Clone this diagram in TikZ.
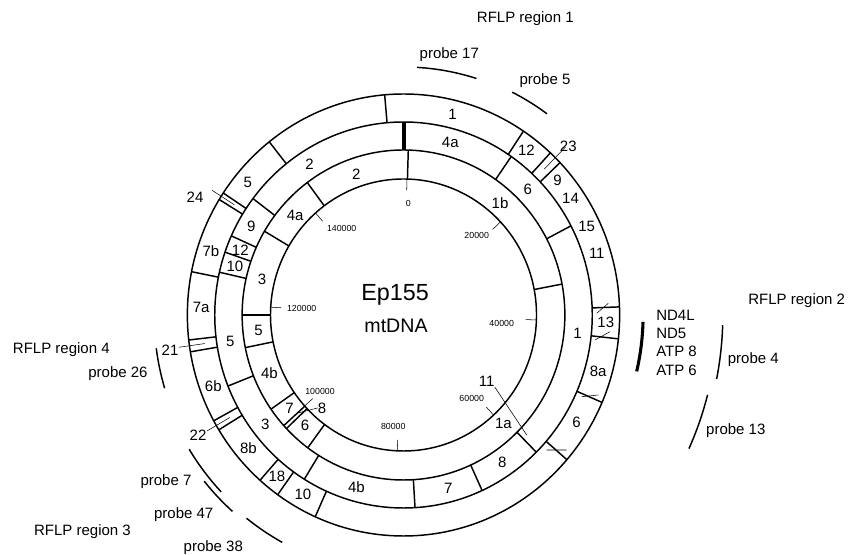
\documentclass[tikz,border=0pt]{standalone}
\usepackage{fontspec}
\setmainfont{Liberation Sans}
\begin{document}
\begin{tikzpicture}[x=0.75pt,y=0.75pt,
  lbl/.style={font=\fontsize{11.25}{13}\selectfont, inner sep=0pt},
  tck/.style={font=\fontsize{6.6}{8}\selectfont, inner sep=0pt},
  ring/.style={line width=1.1pt},
  probe/.style={line width=1.1pt}]
\useasboundingbox (0,0) rectangle (848,555);

\node[lbl] (reg1) at (525.3,536.7) {RFLP region 1};
\node[lbl] (reg2) at (796.7,254.3) {RFLP region 2};
\node[lbl] (reg3) at (82.5,23.3) {RFLP region 3};
\node[lbl] (reg4) at (61.3,205.7) {RFLP region 4};
\node[lbl] (p17) at (449.3,500) {probe 17};
\node[lbl] (p5) at (545,474) {probe 5};
\node[lbl] (p4) at (753.3,195.7) {probe 4};
\node[lbl] (p13) at (735.8,124.3) {probe 13};
\node[lbl] (p26) at (118,181.7) {probe 26};
\node[lbl] (p7) at (166,73.3) {probe 7};
\node[lbl] (p47) at (183.7,40) {probe 47};
\node[lbl] (p38) at (213.3,7) {probe 38};
\node[lbl, anchor=west] (nd4l) at (656,240) {ND4L};
\node[lbl, anchor=west] (nd5) at (656,221.7) {ND5};
\node[lbl, anchor=west] (atp8) at (656,203.3) {ATP 8};
\node[lbl, anchor=west] (atp6) at (656,185) {ATP 6};

\node[font=\fontsize{17.5}{20}\selectfont] (name) at (395,260) {Ep155};
\node[font=\fontsize{14.7}{17}\selectfont] (mt) at (396,229) {mtDNA};

\node[tck] (t0) at (408.3,351.7) {0};
\node[tck] (t20) at (476.7,320) {20000};
\node[tck] (t40) at (501.7,231.7) {40000};
\node[tck] (t60) at (471.7,156.7) {60000};
\node[tck] (t80) at (393.3,128.3) {80000};
\node[tck] (t100) at (320,164) {100000};
\node[tck] (t120) at (301.7,246.7) {120000};
\node[tck] (t140) at (341.7,326.7) {140000};

\begin{scope}[shift={(403.5,240)},xscale=0.978]
\draw[ring] (0,0) circle (136) (0,0) circle (165) (0,0) circle (193) (0,0) circle (221);
\foreach \a in {0,...,7}
  \draw (90-1.5-45.3*\a:136) -- (90-1.5-45.3*\a:125);
\foreach \a in {1.7,79.2,216.4,226.5,227.9,235.2,258.6,270,300.5,323.4}
  \draw[ring] (90-\a:136) -- (90-\a:165);
\foreach \a in {34.8,62.5,135.3,155.4,176.5,211.7,248.4,282.8,289,294.2,307.1}
  \draw[ring] (90-\a:165) -- (90-\a:193);
\draw[line width=3pt] (90:165) -- (90:193);
\foreach \a in {355,33.7,42.8,46.4,87.9,96.2,113.3,130.9,204.1,215.6,221.6,238.7,241.4,260.4,263.5,281.3,301.5,303.5,321.6}
  \draw[ring] (90-\a:193) -- (90-\a:221);
\foreach \a/\r in {44.6/236,302.5/232,240/232,262/232}
  \draw (90-\a:205) -- (90-\a:\r);

\foreach \t/\a in {1/14,12/37.4,9/49.5,14/55.6,15/64.8,11/72.7,13/91.9,8a/105.9,6/121.2,
  10/209.8,18/218.7,8b/230,6b/250,7a/272.2,7b/287.9,5/309.7}
  \node[lbl] (o\t) at (90-\a:207) {\t};
\foreach \t/\a in {4a/15.5,6/45.2,1/95.9,8/145.6,7/165.2,4b/195.6,3/232.2,5/261.6,
  10/285.7,12/291.2,9/299.6,2/327.5}
  \node[lbl] (m\t) at (90-\a:179) {\t};
\foreach \t/\a in {2/341.1,1b/41.5,1a/136.7,6/222.5,7/231.4,4b/247,5/264.2,3/283.9,4a/312}
  \node[lbl] (i\t) at (90-\a:149) {\t};

\foreach \s/\e/\r in {3.2/17.5/248,26.5/36.1/249,91.8/101.3/326.5,104.4/114.6/321,
  253.3/262.5/255,226.5/238.5/257,221.7/230.8/263,208.6/218.3/259}
  \draw[probe] (90-\s:\r) arc[start angle=90-\s, end angle=90-\e, radius=\r];
\draw[line width=2.3pt] (90-91.6:245) arc[start angle=90-91.6, end angle=90-103.3, radius=245];
\end{scope}

\node[lbl] (m23) at (568.3,408.3) {23};
\node[lbl] (m24) at (195,358) {24};
\node[lbl] (m21) at (170,205) {21};
\node[lbl] (m22) at (198,120) {22};
\node[lbl] (m11) at (486.7,173.3) {11};
\node[lbl] (m8) at (322,147) {8};
\coordinate (e11) at (526.7,120);
\coordinate (e8) at (296.7,141.7);
\draw (m11.south east) -- (e11);
\draw (m8.west) -- (e8);
\draw (596.7,241.7) -- (608.3,251.7) (595,215) -- (610,223.3);
\draw (581.7,158.3) -- (598.3,160) (546.7,105) -- (566.7,105);
\end{tikzpicture}
\end{document}
